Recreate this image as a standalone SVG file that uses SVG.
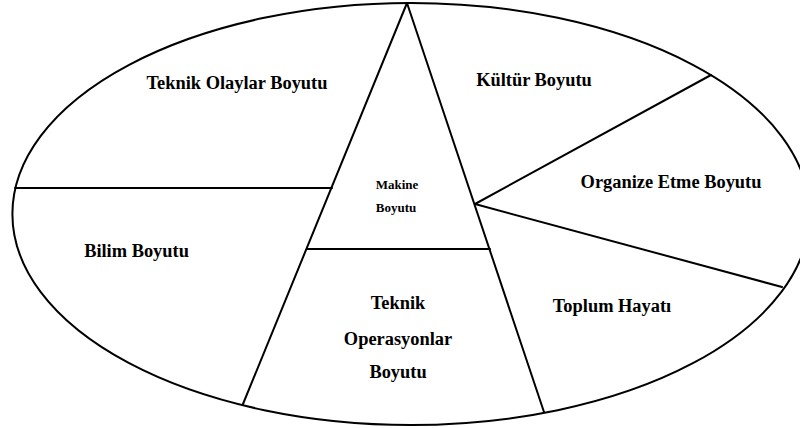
<svg xmlns="http://www.w3.org/2000/svg" width="800" height="428" viewBox="0 0 800 428">
<style>
.ln{stroke:#000;stroke-width:2;fill:none;stroke-linecap:round}
.t{font-family:'Liberation Serif','Times New Roman',serif;font-weight:bold;font-size:18.4px;fill:#000;text-anchor:middle}
.s{font-size:13px}
</style>
<rect width="800" height="428" fill="#fff"/>
<g id="outline">
<ellipse class="ln" cx="411" cy="214" rx="398.6" ry="211"/>
</g>
<g id="connectors">
<line class="ln" x1="407" y1="3" x2="243" y2="404"/>
<line class="ln" x1="407" y1="3" x2="544" y2="412"/>
<line class="ln" x1="15" y1="188" x2="332" y2="188"/>
<line class="ln" x1="307" y1="249" x2="490" y2="249"/>
<line class="ln" x1="475" y1="204" x2="711" y2="75"/>
<line class="ln" x1="475" y1="204" x2="782" y2="287"/>
</g>
<g id="teknik-olaylar"><text class="t" x="237" y="89">Teknik Olaylar Boyutu</text></g>
<g id="kultur"><text class="t" x="534" y="86">Kültür Boyutu</text></g>
<g id="organize"><text class="t" x="671" y="188">Organize Etme Boyutu</text></g>
<g id="makine"><text class="t s" x="397" y="189">Makine</text><text class="t s" x="396" y="212">Boyutu</text></g>
<g id="bilim"><text class="t" x="136.5" y="257">Bilim Boyutu</text></g>
<g id="toplum"><text class="t" x="612" y="312">Toplum Hayatı</text></g>
<g id="teknik-operasyonlar"><text class="t" x="398" y="309">Teknik</text><text class="t" x="398" y="345">Operasyonlar</text><text class="t" x="398" y="378">Boyutu</text></g>
</svg>
